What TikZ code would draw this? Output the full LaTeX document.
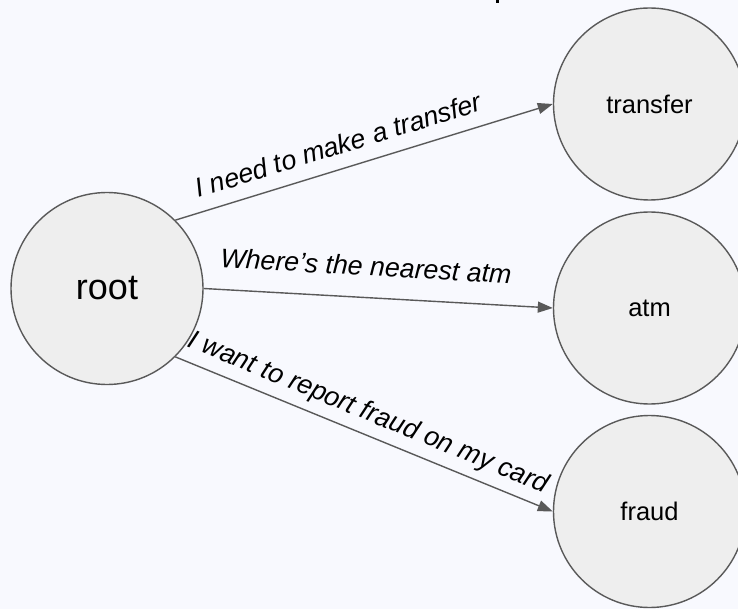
\documentclass[tikz,border=0pt]{standalone}
\usepackage{fontspec}
\setmainfont{Liberation Sans}
\usetikzlibrary{arrows.meta}
\definecolor{bgc}{RGB}{248,249,254}
\definecolor{nodefill}{RGB}{238,238,238}
\definecolor{edgec}{RGB}{89,89,89}
\begin{document}
\begin{tikzpicture}[x=1pt,y=-1pt,
  state/.style={circle, draw=edgec, line width=1.4pt, fill=nodefill,
    minimum size=192pt, inner sep=0pt, font=\fontsize{25.5}{30}\selectfont},
  link/.style={draw=edgec, line width=1.4pt, -{Triangle[length=15pt,width=11pt]}},
  lbl/.style={sloped, anchor=base, inner sep=0pt,
    font=\fontsize{26.8}{31}\selectfont\itshape}]
% canvas
\fill[bgc] (0,0) rectangle (738,609);
\useasboundingbox (0,0) rectangle (738,609);
\clip (0,0) rectangle (738,609);
% tail of the heading above the canvas
\fill[black] (496,0) rectangle (499,3.5);
% states
\node[state, font=\fontsize{36}{40}\selectfont] (root) at (107,288.5) {root};
\node[state] (transfer) at (649.5,104) {transfer};
\node[state] (atm) at (649.5,308) {atm};
\node[state] (fraud) at (649.5,511.5) {fraud};
% intents
\draw[link] (root.45) -- node[lbl, pos=0.45, yshift=14.5pt] {I need to make a transfer} (transfer.west);
\draw[link] (root.east) -- node[lbl, pos=0.46, yshift=22pt] {Where’s the nearest atm} (atm.west);
\draw[link] (root.-45) -- node[lbl, pos=0.49, yshift=14pt] {I want to report fraud on my card} (fraud.west);
\end{tikzpicture}
\end{document}
